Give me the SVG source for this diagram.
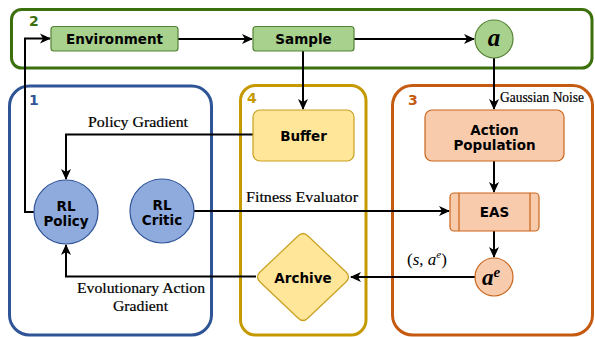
<svg xmlns="http://www.w3.org/2000/svg" width="595" height="337" viewBox="0 0 595 337">
<defs>
<marker id="arr" markerWidth="11" markerHeight="11" refX="10" refY="5.5" orient="auto" markerUnits="userSpaceOnUse">
<path d="M0,0.5 L11,5.5 L0,10.5 L3,5.5 z" fill="#000"/>
</marker>
</defs>
<style>
.cont{fill:none;stroke-width:3}
.lbl{font-family:"DejaVu Sans",sans-serif;font-weight:bold;font-size:13.5px;text-anchor:middle;fill:#000}
.num{font-family:"DejaVu Sans",sans-serif;font-weight:bold;font-size:14px}
.ser{font-family:"Liberation Serif","Times New Roman",serif;font-size:14.5px;fill:#000;stroke:#000;stroke-width:0.2}
.conn{fill:none;stroke:#000;stroke-width:2}
.grn{fill:#a9d18e;stroke:#548235;stroke-width:1.2}
.blu{fill:#8faadc;stroke:#2f5597;stroke-width:1.2}
.yel{fill:#ffe699;stroke:#c9a020;stroke-width:1.2}
.org{fill:#f8cbad;stroke:#c9651b;stroke-width:1.2}
</style>
<rect width="595" height="337" fill="#fff"/>
<g id="containers">
<rect class="cont" x="11.5" y="9.5" width="580.5" height="58.5" rx="10" stroke="#3b700c"/>
<text class="num" x="29" y="26" fill="#3b700c">2</text>
<rect class="cont" x="9.5" y="86" width="202" height="249" rx="20" stroke="#2f5597"/>
<text class="num" x="29" y="105" fill="#2f5597" font-size="13px">1</text>
<rect class="cont" x="240.5" y="85.5" width="125.5" height="249.5" rx="15" stroke="#c49a00"/>
<text class="num" x="247" y="103" fill="#c49a00">4</text>
<rect class="cont" x="392.5" y="85.5" width="200" height="249.5" rx="20" stroke="#c55a11"/>
<text class="num" x="408" y="105" fill="#c55a11">3</text>
</g>
<g id="connectors">
<path class="conn" d="M178,39 H252" marker-end="url(#arr)"/>
<path class="conn" d="M354,39 H474" marker-end="url(#arr)"/>
<path class="conn" d="M34,212 H25 V38.5 H50" marker-end="url(#arr)"/>
<path class="conn" d="M303,51 V109" marker-end="url(#arr)"/>
<path class="conn" d="M253,134.5 H66 V179" marker-end="url(#arr)"/>
<path class="conn" d="M194,211 H449" marker-end="url(#arr)"/>
<path class="conn" d="M494,58 V109" marker-end="url(#arr)"/>
<path class="conn" d="M494,161 V192" marker-end="url(#arr)"/>
<path class="conn" d="M494,231 V257" marker-end="url(#arr)"/>
<path class="conn" d="M476,277 H351" marker-end="url(#arr)"/>
<path class="conn" d="M256,276.5 H66 V245" marker-end="url(#arr)"/>
</g>
<g id="labels">
<text class="ser" x="88" y="127" textLength="100" lengthAdjust="spacingAndGlyphs">Policy Gradient</text>
<text class="ser" x="246" y="202" textLength="112" lengthAdjust="spacingAndGlyphs">Fitness Evaluator</text>
<text class="ser" x="77" y="293" textLength="128" lengthAdjust="spacingAndGlyphs">Evolutionary Action</text>
<text class="ser" x="113" y="311" textLength="55" lengthAdjust="spacingAndGlyphs">Gradient</text>
<text class="ser" x="500" y="102" font-size="11.5px" textLength="84" lengthAdjust="spacingAndGlyphs" stroke-width="0.1">Gaussian Noise</text>
<text x="407" y="265" font-family="Liberation Serif,serif" font-size="17px">(<tspan font-style="italic">s</tspan>, <tspan font-style="italic">a</tspan><tspan font-style="italic" font-size="11px" dy="-7">e</tspan><tspan dy="7">)</tspan></text>
</g>
<g id="environment">
<rect class="grn" x="51" y="26.5" width="127" height="24.5" rx="3"/>
<text class="lbl" x="114.5" y="44">Environment</text>
</g>
<g id="sample">
<rect class="grn" x="253" y="26.5" width="101" height="24.5" rx="3"/>
<text class="lbl" x="303.5" y="44">Sample</text>
</g>
<g id="action">
<circle class="grn" cx="494" cy="39" r="19"/>
<text x="494" y="46" text-anchor="middle" font-family="Liberation Serif,serif" font-style="italic" font-weight="bold" font-size="25px">a</text>
</g>
<g id="rl-policy">
<circle class="blu" cx="66" cy="212" r="32"/>
<text class="lbl" x="66" y="211">RL</text>
<text class="lbl" x="66" y="226">Policy</text>
</g>
<g id="rl-critic">
<circle class="blu" cx="162" cy="211" r="32"/>
<text class="lbl" x="162" y="210">RL</text>
<text class="lbl" x="162" y="225">Critic</text>
</g>
<g id="buffer">
<rect class="yel" x="253" y="110" width="101" height="51" rx="7"/>
<text class="lbl" x="303.5" y="141">Buffer</text>
</g>
<g id="archive">
<path class="yel" d="M298,236 Q303,231 308,236 L346,272 Q351,277 346,282 L308,318 Q303,323 298,318 L260,282 Q255,277 260,272 Z"/>
<text class="lbl" x="303" y="283">Archive</text>
</g>
<g id="action-population">
<rect class="org" x="425" y="110" width="139" height="51" rx="7"/>
<text class="lbl" x="494.5" y="135">Action</text>
<text class="lbl" x="494.5" y="150">Population</text>
</g>
<g id="eas">
<rect class="org" x="450" y="193" width="89" height="38" rx="4"/>
<path d="M459,193 V231 M530,193 V231" stroke="#c9651b" stroke-width="1.2"/>
<text class="lbl" x="494.5" y="217">EAS</text>
</g>
<g id="action-e">
<circle class="org" cx="494" cy="277" r="19"/>
<text x="491" y="285" text-anchor="middle" font-family="Liberation Serif,serif" font-style="italic" font-weight="bold" font-size="23px">a<tspan font-size="15px" dy="-8">e</tspan></text>
</g>
</svg>
